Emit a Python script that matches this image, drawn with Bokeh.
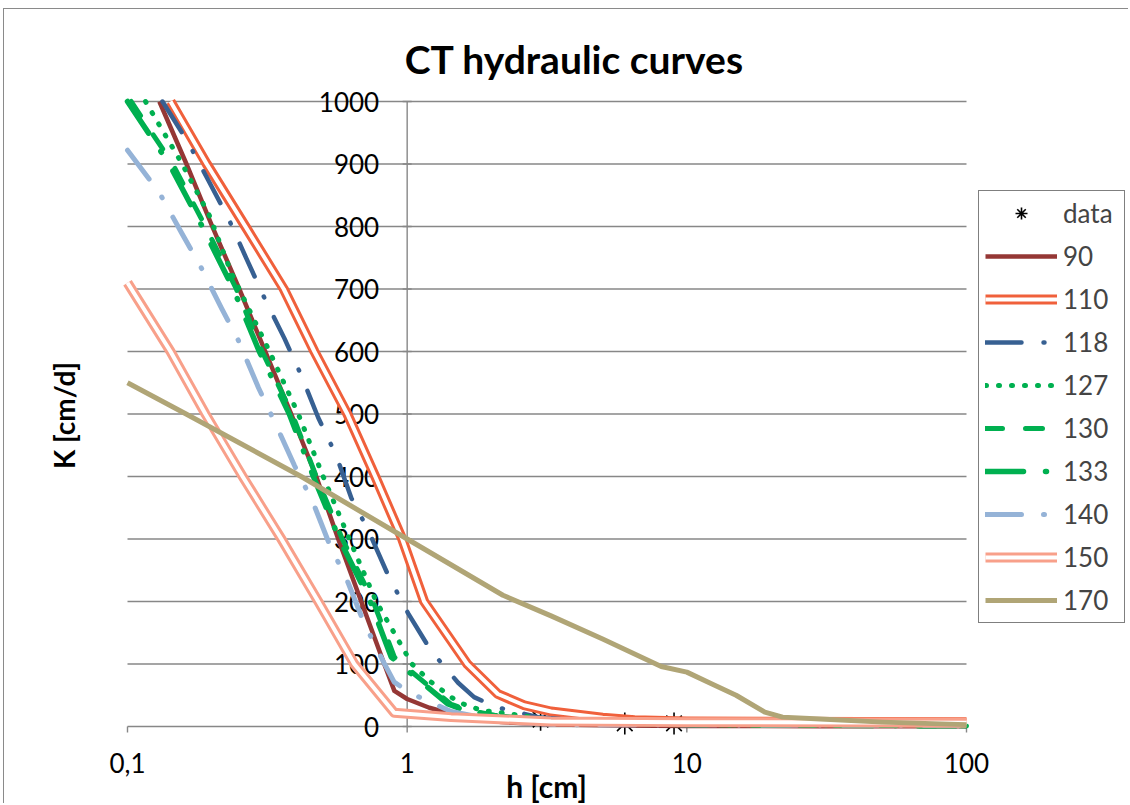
import math
from bokeh.plotting import figure
from bokeh.models import Legend, LegendItem, Range1d
from bokeh.core.properties import value
from bokeh.embed import file_html
from bokeh.resources import INLINE

FONT = "Lato"
GRID = "#878787"

# ---- measured points: pressure head h [cm] vs conductivity K [cm/d] ----
data_h = [3, 6, 9]
data_K = [11, 5, 5]

h90 = [0.13, 0.1625, 0.201, 0.251, 0.311, 0.385, 0.473, 0.567, 0.685, 0.828, 0.9, 1.0, 1.2, 1.44, 1.8, 2.17, 3.3, 6, 10, 30, 100]
k90 = [1000, 900, 800, 700, 600, 500, 400, 300, 200, 100, 57, 44, 30, 20, 12, 7, 3, 1.5, 1, 0.5, 0.3]

h110 = [0.1425, 0.192, 0.264, 0.362, 0.466, 0.611, 0.769, 0.96, 1.15, 1.64, 2.11, 2.62, 3.27, 5.0, 6.5, 10, 100]
k110 = [1000, 900, 800, 700, 600, 500, 400, 300, 200, 100, 52, 34, 24, 14, 10, 8, 7]

h118 = [0.1334, 0.165, 0.1945, 0.2295, 0.266, 0.3085, 0.364, 0.418, 0.481, 0.557, 0.631, 0.726, 0.855, 1.008, 1.218, 1.521, 1.735, 2.08, 2.94, 4.93, 10, 100]
k118 = [1000, 934, 874, 813, 749, 686, 621, 562, 494, 434, 366, 314, 242, 181, 121, 70, 47, 31, 15, 6, 3, 2]

h127 = [0.116, 0.156, 0.196, 0.235, 0.322, 0.408, 0.501, 0.621, 0.775, 1.04, 1.218, 1.52, 1.84, 2.35, 3.55, 11.2, 100]
k127 = [1000, 902, 818, 726, 600, 500, 400, 300, 200, 100, 71, 39, 26, 20, 8, 3, 2]

h130 = [0.103, 0.145, 0.19, 0.245, 0.303, 0.388, 0.473, 0.586, 0.756, 0.9, 0.99, 1.43, 1.64, 2.05, 3.35, 10, 100]
k130 = [1000, 900, 800, 700, 600, 500, 400, 300, 200, 111, 95, 36, 26, 18, 8, 3, 1]

h133 = [0.1, 0.141, 0.185, 0.239, 0.296, 0.379, 0.462, 0.572, 0.738, 0.877, 0.967, 1.4, 1.6, 2.0, 3.27, 10, 100]
k133 = [1000, 900, 800, 700, 600, 500, 400, 300, 200, 111, 95, 36, 26, 18, 8, 3, 1]

h140 = [0.1, 0.130, 0.156, 0.184, 0.217, 0.249, 0.273, 0.294, 0.340, 0.395, 0.462, 0.526, 0.615, 0.702, 0.828, 0.899, 1.033, 1.436, 2.17, 3.55, 100]
k140 = [922, 854, 790, 733, 669, 618, 576, 542, 482, 418, 357, 293, 230, 165, 101, 71, 53, 24, 8, 3, 2]

h150 = [0.1, 0.1425, 0.190, 0.258, 0.355, 0.481, 0.647, 0.899, 1.436, 3.27, 10, 100]
k150 = [710, 600, 500, 400, 300, 200, 100, 22, 15, 8, 7, 6]

h170 = [0.1, 0.162, 0.418, 1.0, 2.2, 3.27, 5.0, 8.1, 10, 12.3, 15, 19, 22, 30, 50, 100]
k170 = [550, 500, 400, 300, 210, 177, 140, 96, 87, 68, 50, 23, 15, 12, 7, 3]

x_ticks = [0.1, 1, 10, 100]
x_tick_labels = ["0,1", "1", "10", "100"]
y_ticks = [0, 100, 200, 300, 400, 500, 600, 700, 800, 900, 1000]
y_tick_labels = [str(v) for v in y_ticks]

# ---- layout: the frame fills the canvas, the plot area is drawn inside it ----
CW, CH = 1125, 795            # canvas size
OX, OY = 4, 9                 # canvas offset on the page (margin + border)
AX_L, AX_R = 127, 966         # page x of h = 0.1 and h = 100
AX_T, AX_B = 101, 726         # page y of K = 1000 and K = 0
DEC_PER_PX = 3.0 / (AX_R - AX_L)
K_PER_PX = 1000.0 / (AX_B - AX_T)


def hx(px):
    return 10 ** (-1 + (px - AX_L) * DEC_PER_PX)


def ky(py):
    return (AX_B - py) * K_PER_PX


p = figure(width=CW, height=CH, x_axis_type="log",
           x_range=Range1d(hx(OX), hx(OX + CW)), y_range=Range1d(ky(OY + CH), ky(OY)),
           output_backend="svg", toolbar_location=None,
           min_border=0, min_border_left=0, min_border_right=0,
           min_border_top=0, min_border_bottom=0,
           styles={"margin-left": "3px", "margin-top": "8px",
                   "border-left": "1px solid #8a8a8a",
                   "border-top": "1px solid #8a8a8a"})
p.xaxis.visible = False
p.yaxis.visible = False
p.grid.visible = False
p.outline_line_color = None
p.background_fill_color = "white"
p.border_fill_color = "white"

x_lo, x_hi = x_ticks[0], x_ticks[-1]

# horizontal gridlines
p.segment(x0=[x_lo] * 10, x1=[x_hi] * 10, y0=y_ticks[1:], y1=y_ticks[1:],
          line_color=GRID, line_width=1.4)
# horizontal axis with downward ticks
p.segment(x0=[x_lo], x1=[x_hi], y0=[0], y1=[0], line_color=GRID, line_width=1.4)
p.segment(x0=x_ticks, x1=x_ticks, y0=[0] * 4, y1=[ky(AX_B + 6)] * 4,
          line_color=GRID, line_width=1.4)
# vertical axis crossing at h = 1 with small cross ticks
p.segment(x0=[1], x1=[1], y0=[0], y1=[1000], line_color=GRID, line_width=1.4)
p.scatter(x=[1] * len(y_ticks), y=y_ticks, marker="dash", size=9,
          line_color=GRID, line_width=1.4)

# tick labels
p.text(x=[1] * len(y_ticks), y=y_ticks, text=y_tick_labels, x_offset=-28,
       text_align="right", text_baseline="middle", text_font=value(FONT),
       text_font_size="26px", text_color="black")
p.text(x=x_ticks, y=[ky(762)] * 4, text=x_tick_labels,
       text_align="center", text_baseline="middle", text_font=value(FONT),
       text_font_size="26px", text_color="black")

# titles
p.text(x=[hx(574)], y=[ky(58)], text=["CT hydraulic curves"], text_align="center",
       text_baseline="middle", text_font=value(FONT), text_font_size="39px",
       text_font_style="bold", text_color="black")
p.text(x=[hx(546)], y=[ky(785)], text=["h [cm]"], text_align="center",
       text_baseline="middle", text_font=value(FONT), text_font_size="30px",
       text_font_style="bold", text_color="black")
p.text(x=[hx(63)], y=[ky(415)], text=["K [cm/d]"], angle=math.pi / 2,
       text_align="center", text_baseline="middle", text_font=value(FONT),
       text_font_size="28px", text_font_style="bold", text_color="black")

# ---- series ----
items = []
r = p.scatter(data_h, data_K, marker="asterisk", size=22, line_color="black", line_width=1.6)
items.append(LegendItem(label="data", renderers=[r]))


def plain(h, k, label, color, width, dash="solid"):
    rr = p.line(h, k, line_color=color, line_width=width, line_dash=dash,
                line_cap="round" if dash != "solid" else "butt", line_join="round")
    items.append(LegendItem(label=label, renderers=[rr]))


def double(h, k, label, color):
    ro = p.line(h, k, line_color=color, line_width=10, line_join="round")
    ri = p.line(h, k, line_color="white", line_width=4, line_join="round")
    items.append(LegendItem(label=label, renderers=[ro, ri]))


plain(h90, k90, "90", "#953735", 4.5)
double(h110, k110, "110", "#F0603B")
plain(h118, k118, "118", "#376092", 4.5, "36 22 1 22")
plain(h127, k127, "127", "#00B050", 5, "1 12")
plain(h130, k130, "130", "#00B050", 5, "17 23")
plain(h133, k133, "133", "#00B050", 5.5, "38 22 1 22")
plain(h140, k140, "140", "#95B3D7", 5, "36 22 1 22")
double(h150, k150, "150", "#F8A08A")
plain(h170, k170, "170", "#B0A576", 5)

# legend box: page x 978, bottom at page y 623
legend = Legend(items=items, location=(978 - OX, OY + CH - 623), orientation="vertical",
                border_line_color="black", border_line_width=1.5,
                background_fill_color="white", background_fill_alpha=1.0,
                label_text_font=FONT, label_text_font_size="26px",
                glyph_width=72, glyph_height=30, label_height=30, label_width=55,
                label_standoff=6, spacing=11, padding=6, margin=0)
p.add_layout(legend)

open("out.html", "w").write(file_html(p, INLINE))
